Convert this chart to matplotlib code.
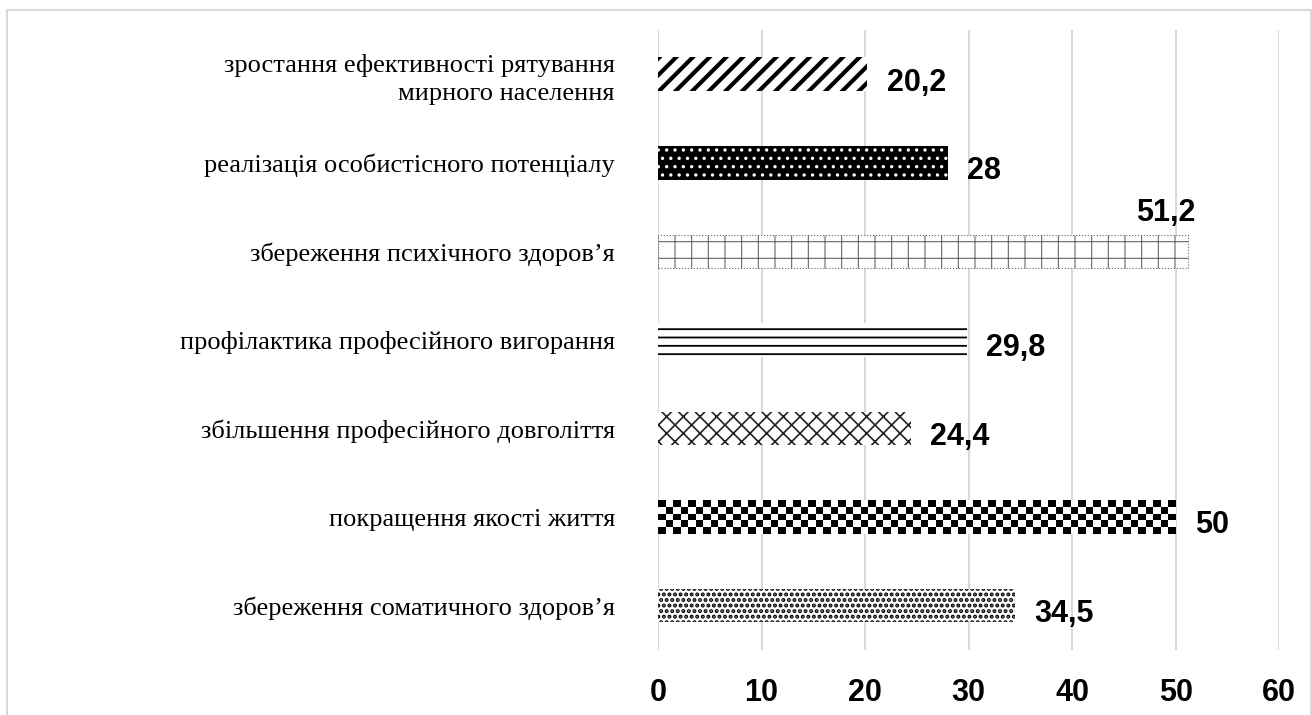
import numpy as np
import matplotlib
matplotlib.use("Agg")
import matplotlib.pyplot as plt
from matplotlib.patches import Rectangle

# categories from bottom to top
categories = [
    "збереження соматичного здоров’я",
    "покращення якості життя",
    "збільшення професійного довголіття",
    "профілактика професійного вигорання",
    "збереження психічного здоров’я",
    "реалізація особистісного потенціалу",
    "зростання ефективності рятування\nмирного населення",
]
values = [34.5, 50, 24.4, 29.8, 51.2, 28, 20.2]
xticks = [0, 10, 20, 30, 40, 50, 60]

num_font = ["Liberation Sans Narrow", "Liberation Sans"]
num_size = 22

fig = plt.figure(figsize=(13.12, 7.15), dpi=100)
ax = fig.add_axes([0.5015, 0.091, 0.4735, 0.867])

# hatch styles per bar (bottom to top): face, edge/hatch colour, hatch, hatch lw, linestyle
styles = [
    ("white", "black", "...", 2.0, "-"),
    ("white", "black", "", 1.0, "-"),     # checker drawn as image
    ("white", "#222222", "xx", 1.2, "-"),
    ("white", "black", "--", 1.3, "-"),
    ("white", "#666666", "+", 0.8, ":"),
    ("black", "white", "..", 1.2, "-"),
    ("white", "black", "//", 3.0, "-"),
]

ypos = np.arange(len(categories))
bars = []
for i, (v, st) in enumerate(zip(values, styles)):
    fc, ec, hatch, hlw, ls = st
    plt.rcParams["hatch.linewidth"] = hlw
    b = ax.barh(ypos[i], v, height=0.38, color=fc, edgecolor=ec, hatch=hatch,
                linewidth=0 if ls == "-" else 0.8, linestyle=ls, zorder=2)[0]
    if hasattr(b, "set_hatch_linewidth"):
        b.set_hatch_linewidth(hlw)
    bars.append(b)

# checkerboard for "покращення якості життя"
cb = bars[1]
x0, y0, w, h = cb.get_x(), cb.get_y(), cb.get_width(), cb.get_height()
nx = int(round(w / 0.72))
ny = 5
checker = (np.add.outer(np.arange(ny), np.arange(nx)) % 2).astype(float)
ax.imshow(checker, cmap="gray", extent=(x0, x0 + w, y0, y0 + h), aspect="auto",
          interpolation="nearest", zorder=2)

ax.set_xlim(0, 60)
ax.set_ylim(-0.5, 6.5)
ax.set_xticks(xticks)
ax.set_xticklabels([str(t) for t in xticks], family=num_font, fontsize=num_size,
                   fontweight="bold")
ax.set_yticks(ypos)
ax.set_yticklabels(categories, family="Liberation Serif", fontsize=19)
for lab in ax.get_yticklabels():
    lab.set_linespacing(1.35)
ax.tick_params(axis="y", length=0, pad=31)
ax.tick_params(axis="x", length=0, pad=20)
ax.grid(axis="x", color="#d9d9d9", linewidth=1.5, zorder=0)
ax.set_axisbelow(True)
for s in ax.spines.values():
    s.set_visible(False)

# value labels
for i, v in enumerate(values):
    txt = "{:g}".format(v).replace(".", ",")
    if v == max(values):
        ax.annotate(txt, xy=(v, ypos[i]), xytext=(-16, 28), textcoords="offset points",
                    ha="center", va="center", family=num_font, fontsize=num_size,
                    fontweight="bold")
    else:
        ax.annotate(txt, xy=(v, ypos[i]), xytext=(14, -6), textcoords="offset points",
                    ha="left", va="center", family=num_font, fontsize=num_size,
                    fontweight="bold")

# light frame around the chart area
fig.patches.append(Rectangle((7 / 1312, -0.1), 1304 / 1312, 1.086, transform=fig.transFigure,
                             fill=False, edgecolor="#d9d9d9", linewidth=1.5))

fig.savefig("out.png", dpi=100)
